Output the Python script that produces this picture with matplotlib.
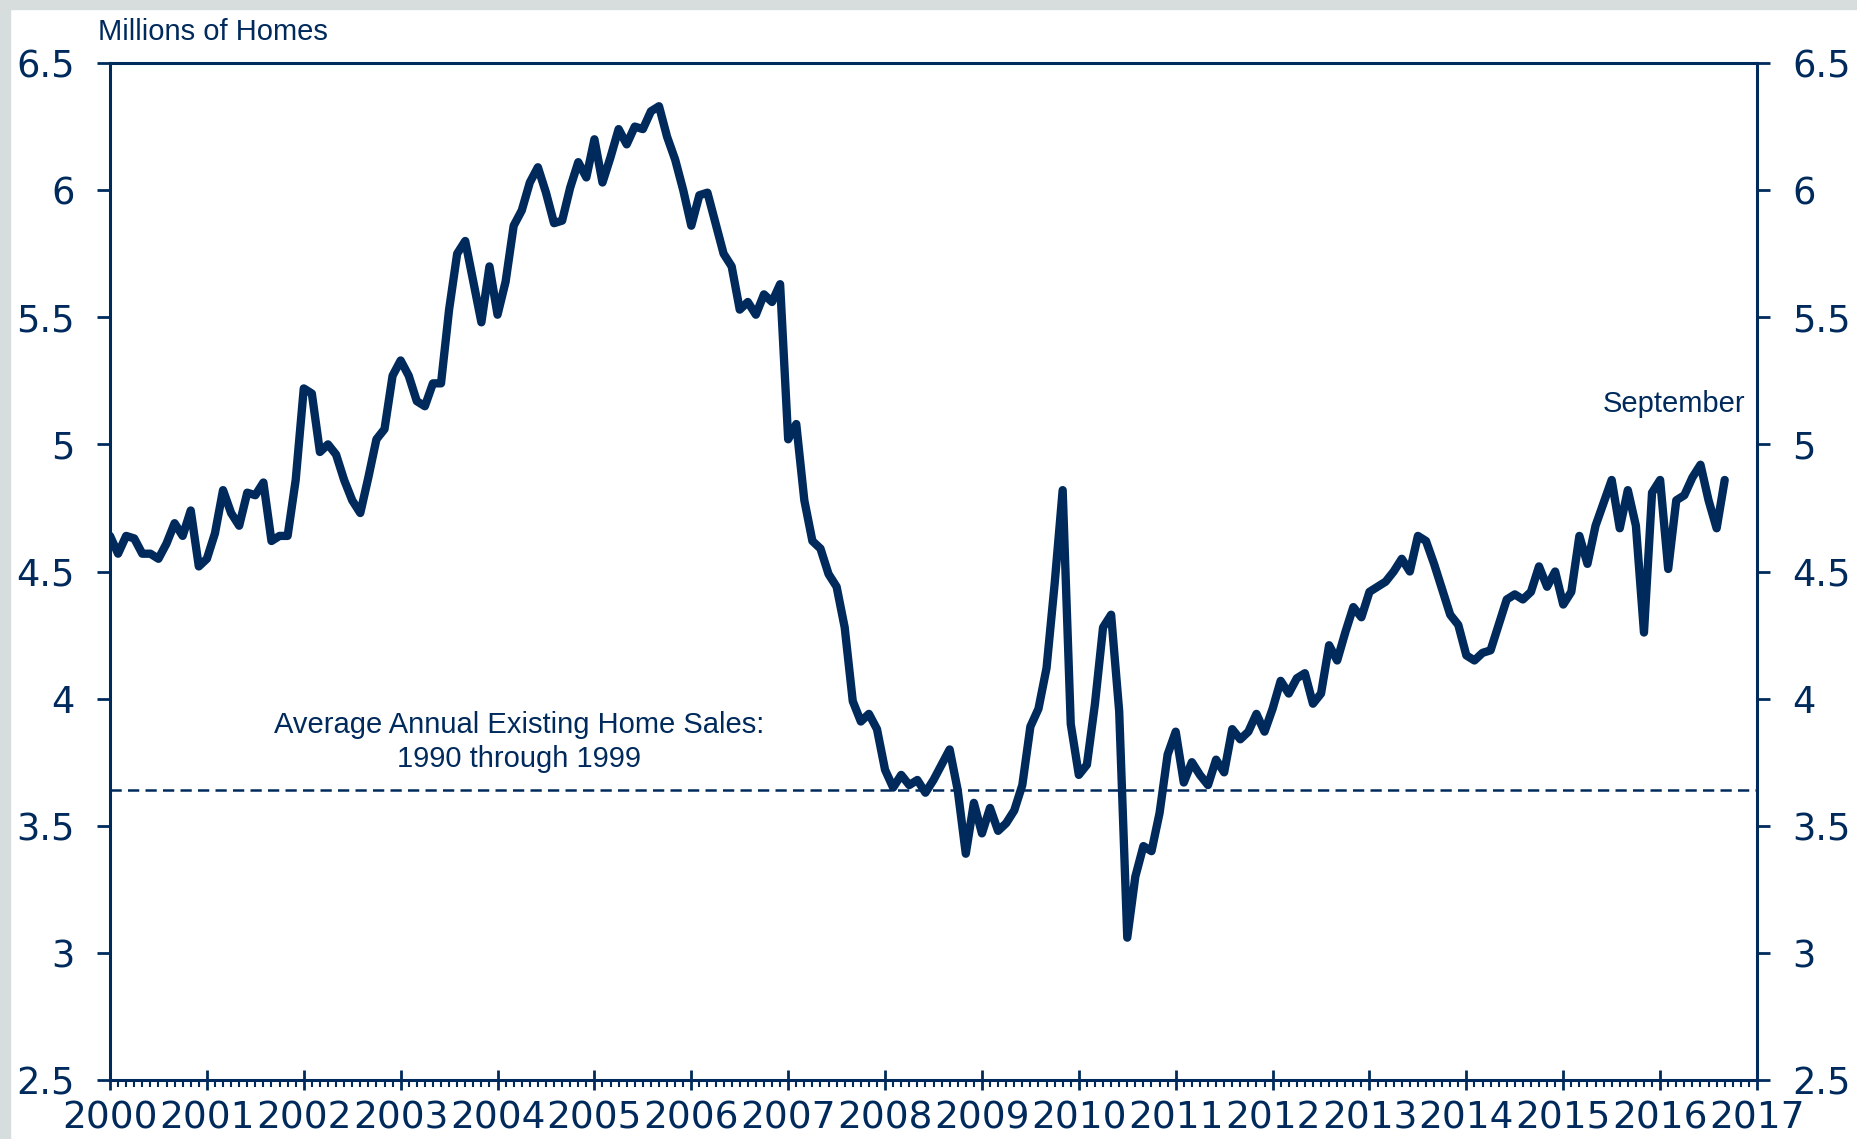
import numpy as np
import matplotlib
matplotlib.use("Agg")
import matplotlib.pyplot as plt
from matplotlib.ticker import MultipleLocator, FixedLocator
from matplotlib.patches import Rectangle

# existing single-family home sales, monthly, Jan 2000 - Sep 2016 (millions, SAAR)
start_year = 2000
sales = [
    4.64, 4.57, 4.64, 4.63, 4.57, 4.57, 4.55, 4.61, 4.69, 4.64, 4.74, 4.52,  # 2000
    4.55, 4.65, 4.82, 4.73, 4.68, 4.81, 4.80, 4.85, 4.62, 4.64, 4.64, 4.86,  # 2001
    5.22, 5.20, 4.97, 5.00, 4.96, 4.86, 4.78, 4.73, 4.87, 5.02, 5.06, 5.27,  # 2002
    5.33, 5.27, 5.17, 5.15, 5.24, 5.24, 5.53, 5.75, 5.80, 5.64, 5.48, 5.70,  # 2003
    5.51, 5.64, 5.86, 5.92, 6.03, 6.09, 5.99, 5.87, 5.88, 6.01, 6.11, 6.05,  # 2004
    6.20, 6.03, 6.13, 6.24, 6.18, 6.25, 6.24, 6.31, 6.33, 6.21, 6.12, 6.00,  # 2005
    5.86, 5.98, 5.99, 5.87, 5.75, 5.70, 5.53, 5.56, 5.51, 5.59, 5.56, 5.63,  # 2006
    5.02, 5.08, 4.78, 4.62, 4.59, 4.49, 4.44, 4.28, 3.99, 3.91, 3.94, 3.88,  # 2007
    3.72, 3.65, 3.70, 3.66, 3.68, 3.63, 3.68, 3.74, 3.80, 3.64, 3.39, 3.59,  # 2008
    3.47, 3.57, 3.48, 3.51, 3.56, 3.66, 3.89, 3.96, 4.12, 4.45, 4.82, 3.90,  # 2009
    3.70, 3.74, 3.98, 4.28, 4.33, 3.95, 3.06, 3.30, 3.42, 3.40, 3.55, 3.78,  # 2010
    3.87, 3.67, 3.75, 3.70, 3.66, 3.76, 3.71, 3.88, 3.84, 3.87, 3.94, 3.87,  # 2011
    3.96, 4.07, 4.02, 4.08, 4.10, 3.98, 4.02, 4.21, 4.15, 4.26, 4.36, 4.32,  # 2012
    4.42, 4.44, 4.46, 4.50, 4.55, 4.50, 4.64, 4.62, 4.53, 4.43, 4.33, 4.29,  # 2013
    4.17, 4.15, 4.18, 4.19, 4.29, 4.39, 4.41, 4.39, 4.42, 4.52, 4.44, 4.50,  # 2014
    4.37, 4.42, 4.64, 4.53, 4.68, 4.77, 4.86, 4.67, 4.82, 4.68, 4.26, 4.81,  # 2015
    4.86, 4.51, 4.78, 4.80, 4.87, 4.92, 4.78, 4.67, 4.86,                    # 2016
]
avg_1990s = 3.64
years = list(range(2000, 2018))
y_ticks = [2.5, 3, 3.5, 4, 4.5, 5, 5.5, 6, 6.5]
y_labels = ["2.5", "3", "3.5", "4", "4.5", "5", "5.5", "6", "6.5"]

navy = "#002a5c"
txt_font = ["Liberation Sans", "DejaVu Sans"]

x = start_year + np.arange(len(sales)) / 12.0

fig = plt.figure(figsize=(18.58, 11.39), dpi=100)
fig.patch.set_facecolor("white")
# grey frame strips at top and left
fig.patches.append(Rectangle((0, 1 - 9 / 1139), 1, 9 / 1139, transform=fig.transFigure,
                             color="#d7dddd", zorder=0))
fig.patches.append(Rectangle((0, 0), 10 / 1858, 1, transform=fig.transFigure,
                             color="#d7dddd", zorder=0))

ax = fig.add_axes([110 / 1858, 1 - 1080 / 1139, (1757 - 110) / 1858, (1080 - 63) / 1139])
ax.plot(x, sales, color=navy, lw=6, solid_joinstyle="round", solid_capstyle="round")
ax.axhline(avg_1990s, color=navy, lw=1.8, linestyle=(0, (4.5, 2.5)))

ax.set_xlim(2000, 2017)
ax.set_ylim(2.5, 6.5)

for s in ax.spines.values():
    s.set_color(navy)
    s.set_linewidth(2.2)

ax.xaxis.set_major_locator(FixedLocator(years))
ax.xaxis.set_minor_locator(MultipleLocator(1 / 12))
ax.set_xticklabels([str(y) for y in years])
ax.tick_params(axis="x", which="major", direction="inout", length=14, width=2, color=navy,
               labelsize=27, labelcolor=navy, pad=8)
ax.tick_params(axis="x", which="minor", direction="out", length=5, width=1.5, color=navy)

ax.set_yticks(y_ticks)
ax.set_yticklabels(y_labels)
ax.tick_params(axis="y", direction="out", length=9.5, width=2, color=navy,
               labelsize=26.5, labelcolor=navy, pad=16,
               left=True, right=True, labelleft=True, labelright=True)

for lab in ax.get_xticklabels() + ax.get_yticklabels():
    lab.set_family("DejaVu Sans")

fig.text(98 / 1858, 1 - 32 / 1139, "Millions of Homes", ha="left", va="center",
         fontsize=21, color=navy, family=txt_font)
ax.text(2016.88, 5.16, "September", ha="right", va="center", fontsize=21,
        color=navy, family=txt_font)
ax.text(2004.22, 3.83, "Average Annual Existing Home Sales:\n1990 through 1999",
        ha="center", va="center", fontsize=21, color=navy, family=txt_font,
        linespacing=1.25)

fig.savefig("out.png", dpi=100)
